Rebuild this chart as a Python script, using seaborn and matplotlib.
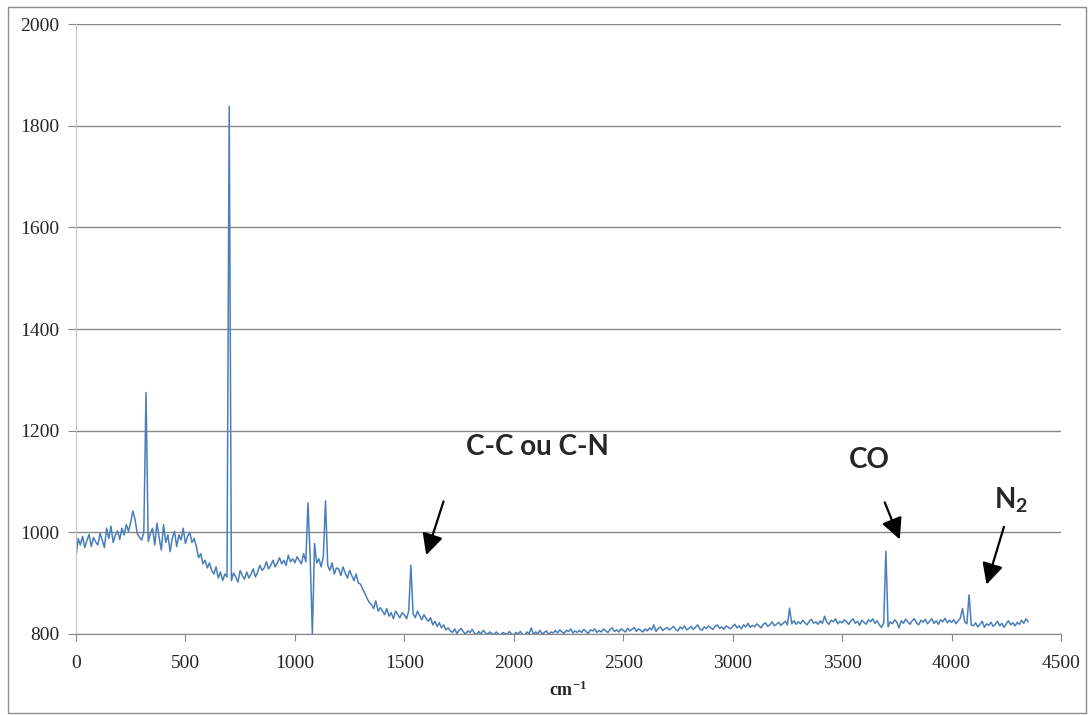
import numpy as np
import pandas as pd
import seaborn as sns
import matplotlib.pyplot as plt
from matplotlib.patches import Rectangle

# spectre Raman, un point tous les 10 cm-1
wn_start = 0
wn_step = 10
intensity = [
    950, 988, 975, 992, 970, 984, 996, 972, 990, 981,
    975, 998, 985, 970, 1008, 988, 1012, 980, 995, 1003,
    986, 1008, 995, 1015, 1002, 1020, 1042, 1025, 998, 990,
    985, 1000, 1275, 982, 998, 1008, 975, 1018, 990, 965,
    1015, 980, 995, 962, 988, 1002, 972, 995, 985, 1008,
    978, 992, 1000, 980, 988, 972, 950, 958, 938, 945,
    930, 940, 925, 918, 932, 910, 922, 905, 918, 912,
    1838, 905, 920, 912, 902, 925, 915, 908, 922, 910,
    918, 928, 912, 922, 935, 925, 930, 942, 928, 935,
    945, 932, 940, 950, 938, 945, 935, 955, 942, 948,
    940, 952, 945, 938, 958, 942, 1058, 948, 800, 978,
    940, 948, 932, 952, 1062, 935, 925, 940, 918, 930,
    928, 915, 932, 920, 910, 925, 915, 905, 918, 900,
    898, 888, 880, 870, 862, 858, 850, 865, 845, 852,
    845, 838, 850, 835, 842, 830, 845, 838, 832, 842,
    838, 830, 845, 935, 840, 832, 845, 836, 828, 838,
    830, 825, 832, 818, 825, 815, 822, 812, 818, 808,
    812, 806, 803, 810, 801, 807, 811, 804, 800, 806,
    803, 809, 802, 798, 805, 800, 807, 803, 799, 804,
    801, 798, 804, 800, 797, 803, 801, 799, 805, 800,
    798, 803, 800, 805, 799, 797, 804, 801, 812, 799,
    804, 801, 807, 800, 803, 806, 799, 804, 802, 807,
    802, 808, 804, 801, 807, 805, 810, 802, 806, 803,
    807, 803, 809, 805, 801, 808, 806, 810, 803, 807,
    804, 810, 806, 803, 809, 812, 805, 808, 804, 810,
    807, 804, 811, 806, 809, 813, 805, 810, 807, 804,
    810, 806, 812, 808, 818, 805, 811, 814, 807, 810,
    813, 808, 811, 815, 809, 806, 814, 810, 816, 808,
    811, 815, 809, 813, 818, 810, 807, 814, 811, 816,
    812, 809, 815, 818, 811, 814, 809, 816, 813, 810,
    815, 819, 812, 816, 810, 818, 814, 821, 813, 817,
    814, 820, 816, 812, 819, 822, 815, 818, 824, 816,
    819, 823, 817, 821, 825, 818, 851, 820, 826, 819,
    824, 820, 827, 822, 818, 825, 829, 821, 824, 819,
    826, 821, 835, 823, 819, 827, 824, 830, 820, 825,
    822, 828, 824, 819, 826, 830, 821, 825, 817, 827,
    823, 819, 828, 824, 830, 821, 826, 818, 813, 822,
    963, 814, 824, 820, 828, 823, 812, 826, 821, 829,
    824, 819, 826, 830, 822, 818, 827, 823, 829, 820,
    825, 830, 821, 826, 819, 828, 824, 831, 822, 827,
    823, 828, 820, 826, 831, 850, 824, 820, 877, 818,
    816, 822, 814, 819, 825, 813, 820, 817, 823, 815,
    819, 825, 816, 821, 813, 820, 826, 818, 822, 816,
    823, 819, 827, 821, 830, 824,
]
wavenumber = wn_start + wn_step * np.arange(len(intensity))

# annotations: texte, position du texte, debut et fin de la fleche
labels = ["C-C ou C-N", "CO", "N$_2$"]
label_pos = [(2108, 1168), (3626, 1142), (4271, 1064)]
arrow_from = [(1683, 1066), (3690, 1064), (4243, 1016)]
arrow_to = [(1596, 950), (3768, 981), (4156, 892)]

df = pd.DataFrame({"wn": wavenumber, "I": intensity})

sns.set_style("white")
plt.rcParams["font.family"] = ["Liberation Serif", "DejaVu Serif"]
plt.rcParams["mathtext.default"] = "regular"

fig = plt.figure(figsize=(10.9, 7.15), dpi=100)
ax = fig.add_axes([0.0697, 0.1133, 0.9037, 0.8531])
fig.patches.append(Rectangle((0.0073, 0.003), 0.989, 0.987, transform=fig.transFigure,
                             fill=False, edgecolor="#8c8c8c", lw=1))

sns.lineplot(data=df, x="wn", y="I", ax=ax, color="#4a7ebb", lw=1.1)

ax.set_xlim(0, 4500)
ax.set_ylim(800, 2000)
ax.set_xticks(range(0, 4501, 500))
ax.set_yticks(range(800, 2001, 200))
ax.yaxis.grid(True, color="#878787", lw=1)
ax.set_axisbelow(True)
for s in ["top", "right"]:
    ax.spines[s].set_visible(False)
ax.spines["left"].set_color("#c4c4c4")
ax.spines["bottom"].set_color("#878787")
ax.tick_params(axis="y", length=6, color="#878787", labelsize=14, pad=6, direction="out", left=True)
ax.tick_params(axis="x", length=5, color="#878787", labelsize=14, pad=10, direction="out", bottom=True)
ax.set_xlabel("cm$^{-1}$", fontsize=13, fontweight="bold", labelpad=6)
ax.set_ylabel("")

for txt, p, a, b in zip(labels, label_pos, arrow_from, arrow_to):
    ax.text(p[0], p[1], txt, fontsize=20, fontweight="bold", family=["Lato", "DejaVu Sans"],
            ha="center", va="center")
    ax.annotate("", xy=b, xytext=a,
                arrowprops=dict(arrowstyle="-|>", color="black", lw=1.6, mutation_scale=32))

plt.savefig("out.png", dpi=100)
